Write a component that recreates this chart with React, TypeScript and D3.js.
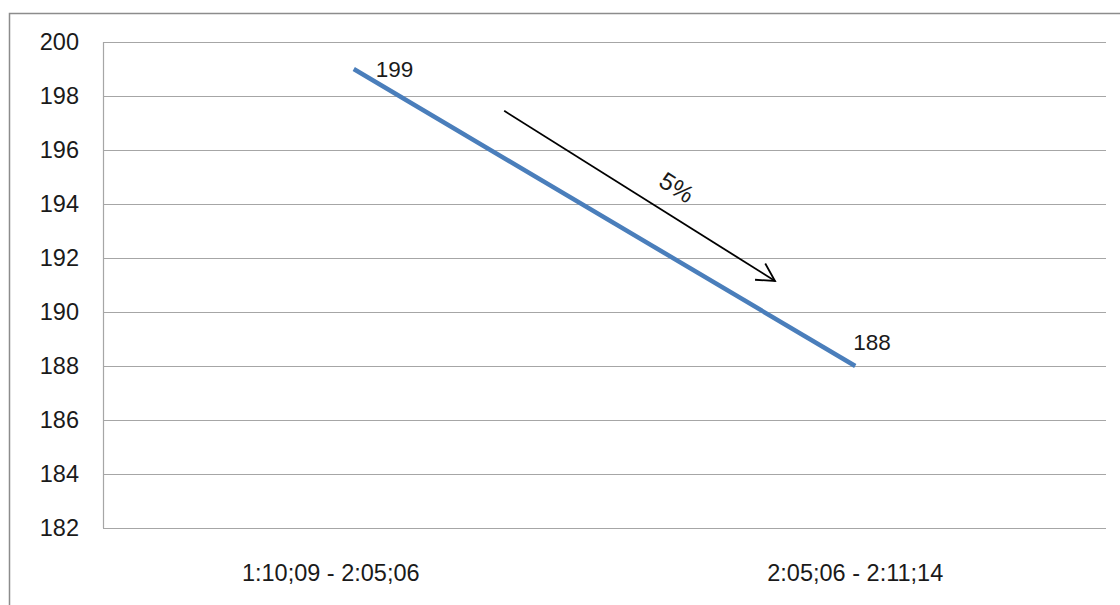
import { useEffect, useRef } from "react";
import * as d3 from "d3";

const categories = ["1:10;09 - 2:05;06", "2:05;06 - 2:11;14"];
const values = [199, 188];
const yTicks = [182, 184, 186, 188, 190, 192, 194, 196, 198, 200];
// arrow annotation, in data space: x = position between the two categories (0..1), y = value
const arrowFrom = { t: 0.3, v: 197.45 };
const arrowTo = { t: 0.84, v: 191.15 };
const arrowLabel = "5%";

const W = 1120;
const H = 605;
const FONT = "'Liberation Sans', Arial, sans-serif";
const FS = 23.5;

export default function App() {
  const ref = useRef<SVGSVGElement | null>(null);

  useEffect(() => {
    if (!ref.current) return;
    const svg = d3.select(ref.current);
    svg.selectAll("*").remove();

    const margin = { top: 42, right: 14, bottom: 77, left: 103 };
    const w = W - margin.left - margin.right;
    const h = H - margin.top - margin.bottom;

    // outer chart frame (only top and left edges show)
    svg.append("rect")
      .attr("x", 9.5).attr("y", 13.5)
      .attr("width", W + 20).attr("height", H + 20)
      .attr("fill", "none").attr("stroke", "#8c8c8c").attr("stroke-width", 1.5);

    const x = d3.scaleBand().domain(categories).range([0, w]);
    const y = d3.scaleLinear().domain([182, 200]).range([h, 0]);
    const cx = (i: number) => x(categories[i])! + x.bandwidth() / 2;
    const t = d3.scaleLinear().domain([0, 1]).range([cx(0), cx(1)]);

    const g = svg.append("g").attr("transform", `translate(${margin.left},${margin.top})`);

    // gridlines
    g.append("g").selectAll("line").data(yTicks).join("line")
      .attr("x1", 0).attr("x2", w)
      .attr("y1", d => Math.round(y(d)) + 0.5).attr("y2", d => Math.round(y(d)) + 0.5)
      .attr("stroke", "#a6a6a6").attr("stroke-width", 1.2);
    g.append("line")
      .attr("x1", 0.5).attr("x2", 0.5).attr("y1", 0).attr("y2", h)
      .attr("stroke", "#a6a6a6").attr("stroke-width", 1.2);

    // y tick labels
    g.append("g").selectAll("text").data(yTicks).join("text")
      .attr("x", -24).attr("y", d => y(d))
      .attr("dy", "0.35em").attr("text-anchor", "end")
      .attr("font-family", FONT).attr("font-size", FS).attr("fill", "#1a1a1a")
      .text(d => d);

    // category labels (the first one sits a little left of its band centre in the original)
    const labelShift = [-23, 0];
    g.append("g").selectAll("text").data(categories).join("text")
      .attr("x", (_, i) => cx(i) + labelShift[i]).attr("y", h + 45)
      .attr("dy", "0.35em").attr("text-anchor", "middle")
      .attr("font-family", FONT).attr("font-size", FS).attr("fill", "#1a1a1a")
      .text(d => d);

    // series line
    const line = d3.line<number>().x((_, i) => cx(i)).y(d => y(d));
    g.append("path")
      .datum(values)
      .attr("fill", "none")
      .attr("stroke", "#4a7ebb")
      .attr("stroke-width", 4.5)
      .attr("d", line as any);

    // data labels
    g.append("text")
      .attr("x", cx(0) + 22).attr("y", y(values[0]))
      .attr("dy", "0.35em")
      .attr("font-family", FONT).attr("font-size", FS - 1).attr("fill", "#1a1a1a")
      .text(values[0]);
    g.append("text")
      .attr("x", cx(1) - 2).attr("y", y(values[1]) - 24)
      .attr("dy", "0.35em")
      .attr("font-family", FONT).attr("font-size", FS - 1).attr("fill", "#1a1a1a")
      .text(values[1]);

    // arrow annotation
    const x1 = t(arrowFrom.t), y1 = y(arrowFrom.v);
    const x2 = t(arrowTo.t), y2 = y(arrowTo.v);
    const ang = Math.atan2(y2 - y1, x2 - x1);
    g.append("line")
      .attr("x1", x1).attr("y1", y1).attr("x2", x2).attr("y2", y2)
      .attr("stroke", "#000").attr("stroke-width", 1.8);
    const head = 20, spread = 0.5;
    const hp = d3.path();
    hp.moveTo(x2 - head * Math.cos(ang - spread), y2 - head * Math.sin(ang - spread));
    hp.lineTo(x2, y2);
    hp.lineTo(x2 - head * Math.cos(ang + spread), y2 - head * Math.sin(ang + spread));
    g.append("path").attr("d", hp.toString())
      .attr("fill", "none").attr("stroke", "#000").attr("stroke-width", 1.8);

    // "5%" label: along the arrow, offset to its upper-right side
    const along = 27, perp = 27;
    const mx = (x1 + x2) / 2 + along * Math.cos(ang) + perp * Math.sin(ang);
    const my = (y1 + y2) / 2 + along * Math.sin(ang) - perp * Math.cos(ang);
    g.append("text")
      .attr("transform", `translate(${mx},${my}) rotate(${(ang * 180) / Math.PI})`)
      .attr("text-anchor", "middle").attr("dy", "0.35em")
      .attr("font-family", FONT).attr("font-size", FS + 1).attr("fill", "#1a1a1a")
      .text(arrowLabel);
  }, []);

  return (
    <svg
      ref={ref}
      width={W}
      height={H}
      style={{ position: "absolute", left: 0, top: 0, background: "#fff" }}
    />
  );
}
